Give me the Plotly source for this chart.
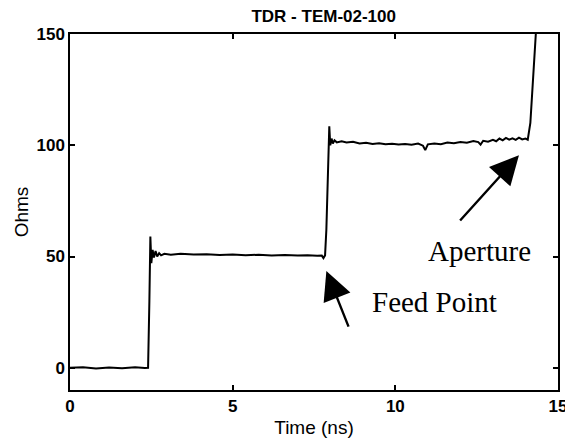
import plotly.graph_objects as go

# Time (ns) and impedance (Ohms)
time_ns = [0.0, 0.4, 0.8, 1.2, 1.6, 2.0, 2.3, 2.40, 2.44, 2.47, 2.50, 2.54, 2.58, 2.63, 2.68,
           2.74, 2.80, 2.9, 3.1, 3.4, 3.8, 4.2, 4.6, 5.0, 5.4, 5.8, 6.2, 6.6, 7.0, 7.3, 7.6,
           7.74, 7.79, 7.84, 7.88, 7.93, 7.97, 8.00, 8.04, 8.08, 8.13, 8.2, 8.35, 8.5, 8.7,
           8.9, 9.1, 9.3, 9.5, 9.7, 9.9, 10.1, 10.3, 10.5, 10.7, 10.85, 10.92, 11.0, 11.2,
           11.4, 11.6, 11.8, 12.0, 12.2, 12.4, 12.55, 12.62, 12.7, 12.85, 13.0, 13.1, 13.2,
           13.3, 13.4, 13.5, 13.6, 13.7, 13.8, 13.9, 14.0, 14.07, 14.15, 14.22, 14.3, 14.36]
ohms = [0.0, 0.2, -0.3, 0.1, -0.2, 0.2, -0.1, 0.0, 30.0, 59.0, 47.0, 53.0, 49.5, 52.5, 50.0,
        51.5, 50.5, 51.2, 50.8, 51.2, 50.9, 51.0, 50.7, 50.9, 50.6, 50.8, 50.5, 50.7, 50.5, 50.6, 50.3,
        50.4, 49.3, 50.5, 62.0, 96.0, 108.5, 100.0, 103.0, 100.8, 102.2, 101.3, 101.8, 101.2, 101.6,
        100.8, 101.1, 100.6, 100.9, 100.4, 100.7, 100.3, 100.6, 100.2, 100.8, 99.8, 97.8, 100.4, 100.8,
        100.5, 101.2, 100.9, 101.5, 101.1, 101.9, 101.4, 100.3, 102.0, 101.6, 102.4, 101.8, 103.0,
        102.2, 103.3, 102.5, 103.1, 102.4, 103.4, 102.6, 103.0, 102.5, 110.0, 128.0, 149.0, 160.0]

# Annotation positions (data units): label, text x/y, arrow head x/y, arrow tail x/y
labels = ["Feed Point", "Aperture"]
label_x = [11.2, 12.6]
label_y = [29.5, 52.5]
head_x = [7.88, 13.8]
head_y = [43.5, 95.5]
tail_x = [8.58, 11.95]
tail_y = [17.8, 65.5]

x_ticks = [0, 5, 10, 15]
y_ticks = [0, 50, 100, 150]

SANS = "Liberation Sans, Arial, sans-serif"

fig = go.Figure()
fig.add_trace(go.Scatter(x=time_ns, y=ohms, mode="lines",
                         line=dict(color="black", width=2), showlegend=False,
                         hoverinfo="skip"))

for i, lab in enumerate(labels):
    fig.add_annotation(x=label_x[i], y=label_y[i], xref="x", yref="y", text=lab,
                       showarrow=False,
                       font=dict(family="Liberation Serif, Times New Roman, serif",
                                 size=29, color="black"))
    fig.add_annotation(x=head_x[i], y=head_y[i], ax=tail_x[i], ay=tail_y[i],
                       xref="x", yref="y", axref="x", ayref="y", text="",
                       showarrow=True, arrowhead=2, arrowsize=2.4, arrowwidth=2.4,
                       arrowcolor="black")

axis_common = dict(showgrid=False, zeroline=False, showline=True, linecolor="black",
                   linewidth=1.5, mirror="ticks", ticks="inside", ticklen=5,
                   tickwidth=1.5, tickcolor="black",
                   tickfont=dict(family=SANS, size=17, color="black", weight="bold"))

fig.update_layout(
    width=573, height=444,
    margin=dict(l=62, r=23, t=26, b=62),
    paper_bgcolor="white", plot_bgcolor="white",
    title=dict(text="TDR - TEM-02-100", x=0.551, xanchor="center", y=0.982,
               yanchor="middle",
               font=dict(family=SANS, size=17, color="black", weight="bold")),
    xaxis=dict(range=[0, 15], tickvals=x_ticks,
               title=dict(text="Time (ns)", standoff=6,
                          font=dict(family=SANS, size=19, color="black")),
               **axis_common),
    yaxis=dict(range=[-10, 150], tickvals=y_ticks,
               title=dict(text="Ohms", standoff=3,
                          font=dict(family=SANS, size=19, color="black")),
               **axis_common),
)

fig.write_html("out.html")
